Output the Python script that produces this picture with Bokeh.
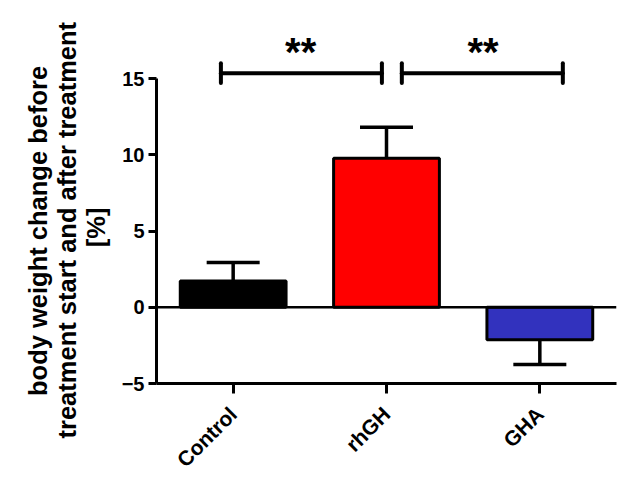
from bokeh.plotting import figure
from bokeh.models import FactorRange, Range1d, FixedTicker, Span, Title
from bokeh.core.properties import value
from bokeh.embed import file_html
from bokeh.resources import INLINE
import math

# ---- data ----
categories = ["Control", "rhGH", "GHA"]
means = [1.72, 9.77, -2.13]          # body weight change [%]
sems = [1.21, 2.03, 1.63]            # error (one-sided, away from zero)
bar_colors = ["#000000", "#FF0000", "#3232BE"]
y_ticks = [-5, 0, 5, 10, 15]
sig_labels = ["**", "**"]            # Control vs rhGH, rhGH vs GHA
sig_level = 15.35
y_title_lines = ["body weight change before",
                 "treatment start and after treatment",
                 "[%]"]

FONT = "Liberation Sans"

err_end = [m + (s if m >= 0 else -s) for m, s in zip(means, sems)]

p = figure(
    x_range=FactorRange(*categories),
    y_range=Range1d(-5, 18.28),
    width=630, height=493,
    output_backend="svg", toolbar_location=None,
    min_border_left=156, min_border_right=14,
    min_border_top=28, min_border_bottom=110,
)
p.background_fill_color = "white"
p.border_fill_color = "white"
p.outline_line_color = None
p.xgrid.visible = False
p.ygrid.visible = False

# error bars (drawn first so the bar outline covers the stem base)
p.segment(x0=categories, y0=means, x1=categories, y1=err_end,
          line_color="black", line_width=3.5)
p.scatter(x=categories, y=err_end, marker="dash", size=53,
          line_color="black", line_width=3.5)

# bars
p.vbar(x=categories, top=means, width=0.69, bottom=0,
       fill_color=bar_colors, line_color="black", line_width=3)

# zero line
p.add_layout(Span(location=0, dimension="width", line_color="black", line_width=2.5))

# significance brackets
br_x0 = [(categories[0], -0.08), (categories[1], 0.10)]
br_x1 = [(categories[1], -0.03), (categories[2], 0.15)]
h = 0.65
p.segment(x0=br_x0, x1=br_x1, y0=[sig_level] * 2, y1=[sig_level] * 2,
          line_color="black", line_width=4, line_cap="round")
p.segment(x0=br_x0 + br_x1, x1=br_x0 + br_x1,
          y0=[sig_level - h] * 4, y1=[sig_level + h] * 4,
          line_color="black", line_width=4, line_cap="round")
star_x = [(categories[0], 0.44), (categories[2], -0.37)]
p.text(x=star_x, y=[sig_level + 1.4] * 2, text=sig_labels,
       text_align="center", text_baseline="alphabetic",
       text_font=value(FONT), text_font_size="40px", text_font_style="bold",
       text_color="black")

# y axis
ya = p.yaxis[0]
ya.ticker = FixedTicker(ticks=y_ticks)
ya.bounds = (-5, 15)
ya.axis_line_width = 3
ya.major_tick_line_width = 3
ya.major_tick_out = 8
ya.major_tick_in = 0
ya.minor_tick_line_color = None
ya.major_label_standoff = 4
ya.major_label_text_font = FONT
ya.major_label_text_font_style = "bold"
ya.major_label_text_font_size = "20px"
ya.major_label_text_color = "black"

# y title: one left-aligned block in the left panel; leading no-break spaces
# centre the shorter lines on the longest one, offset centres the block on
# the axis extent (-5 .. 15)
lead = ["\u00a0" * 6, "", "\u00a0" * 27]
y_title = Title(
    text="\n".join(l + t for l, t in zip(lead, y_title_lines)),
    align="left", offset=-55, standoff=16, vertical_align="bottom",
    text_font=FONT, text_font_style="bold", text_font_size="25.5px",
    text_line_height=1.05, text_color="black",
)
p.add_layout(y_title, "left")

# x axis
xa = p.xaxis[0]
xa.axis_line_width = 3
xa.major_tick_line_width = 3
xa.major_tick_out = 10
xa.major_tick_in = 0
xa.minor_tick_line_color = None
xa.major_label_orientation = math.pi / 4
xa.major_label_standoff = 17
xa.major_label_text_font = FONT
xa.major_label_text_font_style = "bold"
xa.major_label_text_font_size = "21px"
xa.major_label_text_color = "black"

open("out.html", "w").write(file_html(p, INLINE))
